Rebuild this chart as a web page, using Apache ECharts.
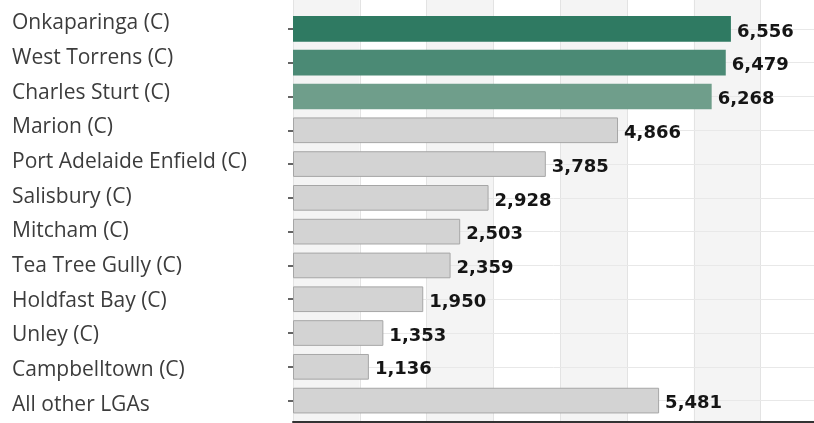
<!DOCTYPE html>
<html>
<head>
<meta charset="utf-8">
<script src="https://cdn.jsdelivr.net/npm/echarts@6/dist/echarts.min.js"></script>
<style>
  html, body { margin: 0; padding: 0; background: #ffffff; }
  #chart { width: 814px; height: 423px; }
</style>
</head>
<body>
<div id="chart"></div>
<script>
// Local government areas, top to bottom
const categories = [
  'Onkaparinga (C)', 'West Torrens (C)', 'Charles Sturt (C)', 'Marion (C)',
  'Port Adelaide Enfield (C)', 'Salisbury (C)', 'Mitcham (C)', 'Tea Tree Gully (C)',
  'Holdfast Bay (C)', 'Unley (C)', 'Campbelltown (C)', 'All other LGAs'
];
const values = [6556, 6479, 6268, 4866, 3785, 2928, 2503, 2359, 1950, 1353, 1136, 5481];
// Highlight colours for the top three, neutral grey for the rest
const barColors = ['#2f7a62', '#4b8a75', '#6f9e8b'];
const greyFill = '#d3d3d3';

const X_MAX = 7800;
const chart = echarts.init(document.getElementById('chart'), null, { renderer: 'canvas' });

const barData = values.map((v, i) => ({
  value: v,
  itemStyle: i < barColors.length
    ? { color: barColors[i] }
    : { color: greyFill, borderColor: '#a6a6a6', borderWidth: 1 }
}));

const hiddenValueAxis = (gridIndex) => ({
  type: 'value', gridIndex, min: 0, max: X_MAX, interval: 1000,
  axisLabel: { show: false }, axisTick: { show: false },
  axisLine: { show: false }, splitLine: { show: false }, splitArea: { show: false }
});

chart.setOption({
  animation: false,
  backgroundColor: '#ffffff',
  grid: [
    // bars and ticks
    { left: 293, right: 0, top: 12, bottom: 5.5, containLabel: false },
    // category names and the baseline
    { left: 293, right: 0, top: 6, bottom: 1, containLabel: false },
    // full-height banding behind everything
    { left: 293, right: 0, top: 0, bottom: 1, containLabel: false, z: 0 }
  ],
  xAxis: [
    hiddenValueAxis(0),
    Object.assign(hiddenValueAxis(1), {
      axisLine: { show: true, onZero: false, lineStyle: { color: '#333333', width: 2 } }
    }),
    Object.assign(hiddenValueAxis(2), {
      z: 0,
      splitLine: { show: true, lineStyle: { color: '#e3e3e3', width: 1 } },
      splitArea: { show: true, areaStyle: { color: ['#f4f4f4', '#ffffff'] } }
    })
  ],
  yAxis: [
    {
      type: 'category', gridIndex: 0, data: categories, inverse: true,
      axisLine: { show: false },
      axisTick: { show: true, alignWithLabel: true, length: 5, lineStyle: { color: '#333333', width: 1.5 } },
      splitLine: { show: false },
      axisLabel: { show: false }
    },
    {
      type: 'category', gridIndex: 1, data: categories, inverse: true,
      axisLine: { show: false },
      axisTick: { show: false },
      splitLine: { show: false },
      axisLabel: {
        align: 'left',
        margin: 281,
        color: '#3c3c3c',
        fontFamily: 'Open Sans',
        fontSize: 21
      }
    },
    {
      type: 'category', gridIndex: 2, data: categories, inverse: true,
      axisLine: { show: false }, axisTick: { show: false },
      axisLabel: { show: false }, splitLine: { show: false }
    }
  ],
  series: [
    {
      // faint guide lines through each row centre, behind the bars
      type: 'line',
      xAxisIndex: 0, yAxisIndex: 0,
      data: [],
      silent: true,
      z: 1,
      markLine: {
        silent: true,
        z: 1,
        symbol: 'none',
        label: { show: false },
        lineStyle: { color: '#e8e8e8', width: 1, type: 'solid' },
        data: categories.map(c => ({ yAxis: c }))
      }
    },
    {
      type: 'bar',
      xAxisIndex: 0, yAxisIndex: 0,
      data: barData,
      barCategoryGap: '24%',
      z: 3,
      label: {
        show: true,
        position: 'right',
        distance: 6,
        offset: [0, 3],
        color: '#151515',
        fontFamily: 'DejaVu Sans',
        fontWeight: 'bold',
        fontSize: 18,
        formatter: p => p.value.toLocaleString('en-US')
      }
    },
    {
      // carries the category-name axis of the second grid
      type: 'bar',
      xAxisIndex: 1, yAxisIndex: 1,
      data: [],
      silent: true
    },
    {
      // carries the banding axis of the third grid
      type: 'bar',
      xAxisIndex: 2, yAxisIndex: 2,
      data: [],
      silent: true
    }
  ]
});
</script>
</body>
</html>
